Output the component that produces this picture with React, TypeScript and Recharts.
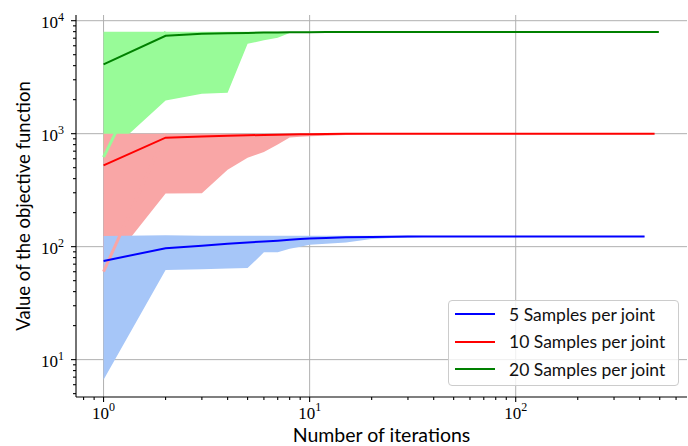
import React from 'react';
import { ComposedChart, Area, Line, XAxis, YAxis, CartesianGrid } from 'recharts';

// Iteration numbers at which each run was sampled
const iterations = [1, 2, 3, 4, 5, 6, 7, 8, 9, 10, 12, 15, 20, 25, 30, 40, 60, 100, 200, 300, 422, 472, 495];

// 5 samples per joint
const blueMean = [74.6, 97, 102, 106, 109, 111, 113, 115, 117, 118, 119.5, 121, 122, 122.5, 123, 123, 123, 123, 123, 123, 123, null, null];
const blueLow = [6.65, 62, 63, 64, 64.6, 89, 89, 96, 100, 104, 106, 109, 117, 119, 120, 123, 123, 123, 123, 123, 123, null, null];
const blueHigh = [124, 126, 125, 125, 125, 125, 125, 125, 125, 125, 125, 125, 125, 125, 125, 124, 124, 124, 124, 124, 124, null, null];

// 10 samples per joint
const redMean = [525, 922, 946, 960, 968, 975, 980, 985, 988, 990, 993, 996, 998, 998, 998, 998, 998, 998, 998, 998, 998, 998, null];
const redLow = [60, 295, 297, 480, 613, 688, 800, 925, 940, 950, 960, 975, 995, 998, 998, 998, 998, 998, 998, 998, 998, 998, null];
const redHigh = [1000, 1000, 1000, 1000, 1000, 1000, 1000, 1000, 1000, 1000, 1000, 1000, 1000, 1000, 1000, 1000, 1000, 1000, 1000, 1000, 1000, 1000, null];

// 20 samples per joint
const greenMean = [4100, 7360, 7670, 7750, 7800, 7850, 7880, 7900, 7910, 7920, 7935, 7945, 7950, 7950, 7950, 7950, 7950, 7950, 7950, 7950, 7950, 7950, 7950];
const greenLow = [620, 1970, 2260, 2300, 6250, 6700, 7070, 7800, 7900, 7920, 7935, 7945, 7950, 7950, 7950, 7950, 7950, 7950, 7950, 7950, 7950, 7950, 7950];
const greenHigh = [8000, 8000, 8000, 8000, 8000, 8000, 8000, 8000, 8000, 8000, 8000, 8000, 8000, 8000, 8000, 8000, 8000, 8000, 8000, 8000, 8000, 8000, 8000];

const seriesLabels = ['5 Samples per joint', '10 Samples per joint', '20 Samples per joint'];
const lineColors = ['#0000ff', '#ff0000', '#008000'];
const bandColors = ['#a6c6f8', '#f9a6a6', '#98fb98'];

const xMajor = [1, 10, 100];
const xMinor = [0.8, 0.9, 2, 3, 4, 5, 6, 7, 8, 9, 20, 30, 40, 50, 60, 70, 80, 90, 200, 300, 400, 500, 600];
const yMajor = [10, 100, 1000, 10000];
const yMinor = [5, 6, 7, 8, 9, 20, 30, 40, 50, 60, 70, 80, 90, 200, 300, 400, 500, 600, 700, 800, 900, 2000, 3000, 4000, 5000, 6000, 7000, 8000, 9000];

const xDomain = [0.735, 678];
const yDomain = [4.67, 11230];

const band = (lo: (number | null)[], hi: (number | null)[], i: number) =>
  lo[i] == null || hi[i] == null ? undefined : [lo[i], hi[i]];

// The edge that joins a band's first lower value to its second upper value
const edge = (lo: (number | null)[], hi: (number | null)[], i: number) =>
  i === 0 ? lo[0] : i === 1 ? hi[1] : undefined;

const data = iterations.map((it, i) => ({
  iter: it,
  blue: blueMean[i] ?? undefined,
  red: redMean[i] ?? undefined,
  green: greenMean[i] ?? undefined,
  blueBand: band(blueLow, blueHigh, i),
  redBand: band(redLow, redHigh, i),
  greenBand: band(greenLow, greenHigh, i),
  redEdge: edge(redLow, redHigh, i),
  greenEdge: edge(greenLow, greenHigh, i),
}));

const serif = '"Liberation Serif", "DejaVu Serif", serif';
const sans = 'Lato, "Noto Sans", sans-serif';

const XTick = (props: any) => {
  const { x, y, payload } = props;
  const v = payload.value;
  const major = xMajor.includes(v);
  return (
    <g>
      <line x1={x} x2={x} y1={y} y2={y + (major ? 5 : 3)} stroke="#000" strokeWidth={1.1} />
      {major && (
        <text x={x} y={y + 22} textAnchor="middle" fontFamily={serif} fontSize={17} fill="#000">
          10<tspan dy={-8} fontSize={12}>{Math.round(Math.log10(v))}</tspan>
        </text>
      )}
    </g>
  );
};

const YTick = (props: any) => {
  const { x, y, payload } = props;
  const v = payload.value;
  const major = yMajor.includes(v);
  return (
    <g>
      <line x1={x - (major ? 5 : 3)} x2={x} y1={y} y2={y} stroke="#000" strokeWidth={1.1} />
      {major && (
        <text x={x - 12} y={y + 7.6} textAnchor="end" fontFamily={serif} fontSize={17} fill="#000">
          10<tspan dy={-7} fontSize={12}>{Math.round(Math.log10(v))}</tspan>
        </text>
      )}
    </g>
  );
};

const XLabel = (props: any) => {
  const { viewBox } = props;
  return (
    <text x={viewBox.x + viewBox.width / 2} y={442} textAnchor="middle" fontFamily={sans} fontSize={19.5} fill="#000">
      Number of iterations
    </text>
  );
};

const YLabel = (props: any) => {
  const { viewBox } = props;
  const cy = viewBox.y + viewBox.height / 2;
  return (
    <text x={30} y={cy} transform={`rotate(-90 30 ${cy})`} textAnchor="middle" fontFamily={sans} fontSize={18.5} fill="#000">
      Value of the objective function
    </text>
  );
};

const LegendBox = () => (
  <div
    style={{
      position: 'absolute',
      left: 448,
      top: 300,
      width: 229,
      height: 84,
      border: '1px solid #cccccc',
      borderRadius: 4,
      background: 'rgba(255,255,255,0.8)',
      fontFamily: sans,
      fontSize: 17.5,
      color: '#111',
    }}
  >
    {seriesLabels.map((label, i) => (
      <div
        key={label}
        style={{ position: 'absolute', left: 0, top: 13 + i * 27.5 - 12, height: 24, display: 'flex', alignItems: 'center', whiteSpace: 'nowrap' }}
      >
        <svg width={60} height={24} style={{ display: 'block' }}>
          <line x1={6} x2={46} y1={12} y2={12} stroke={lineColors[i]} strokeWidth={2} />
        </svg>
        <span>{label}</span>
      </div>
    ))}
  </div>
);

export default function App() {
  return (
    <div style={{ position: 'absolute', left: 0, top: 0, width: 688, height: 446, background: '#fff' }}>
      <ComposedChart width={688} height={446} data={data} margin={{ top: 15, right: 1, bottom: 0, left: 0 }}>
        <CartesianGrid stroke="#b0b0b0" strokeWidth={1} verticalValues={xMajor} horizontalValues={yMajor} />
        <XAxis
          dataKey="iter"
          type="number"
          scale="log"
          domain={xDomain}
          allowDataOverflow
          ticks={[...xMajor, ...xMinor]}
          interval={0}
          tickLine={false}
          tickSize={0}
          tickMargin={0}
          tick={<XTick />}
          axisLine={{ stroke: '#000', strokeWidth: 1.1 }}
          height={49}
          label={<XLabel />}
        />
        <XAxis
          xAxisId="top"
          orientation="top"
          dataKey="iter"
          type="number"
          scale="log"
          domain={xDomain}
          allowDataOverflow
          tick={false}
          tickLine={false}
          height={0}
          axisLine={{ stroke: '#000', strokeWidth: 1.1 }}
        />
        <YAxis
          type="number"
          scale="log"
          domain={yDomain}
          allowDataOverflow
          ticks={[...yMajor, ...yMinor]}
          interval={0}
          tickLine={false}
          tickSize={0}
          tickMargin={0}
          tick={<YTick />}
          axisLine={{ stroke: '#000', strokeWidth: 1.1 }}
          width={76}
          label={<YLabel />}
        />
        <YAxis
          yAxisId="right"
          orientation="right"
          type="number"
          scale="log"
          domain={yDomain}
          allowDataOverflow
          tick={false}
          tickLine={false}
          width={0}
          axisLine={{ stroke: '#000', strokeWidth: 1.1 }}
        />
        <Area dataKey="greenBand" type="linear" stroke="none" fill={bandColors[2]} fillOpacity={1} isAnimationActive={false} />
        <Area dataKey="redBand" type="linear" stroke="none" fill={bandColors[1]} fillOpacity={1} isAnimationActive={false} />
        <Area dataKey="blueBand" type="linear" stroke="none" fill={bandColors[0]} fillOpacity={1} isAnimationActive={false} />
        <Line dataKey="greenEdge" type="linear" stroke={bandColors[2]} strokeWidth={3} dot={false} isAnimationActive={false} />
        <Line dataKey="redEdge" type="linear" stroke={bandColors[1]} strokeWidth={3} dot={false} isAnimationActive={false} />
        <Line dataKey="blue" type="linear" stroke={lineColors[0]} strokeWidth={2} dot={false} isAnimationActive={false} />
        <Line dataKey="red" type="linear" stroke={lineColors[1]} strokeWidth={2} dot={false} isAnimationActive={false} />
        <Line dataKey="green" type="linear" stroke={lineColors[2]} strokeWidth={2} dot={false} isAnimationActive={false} />
      </ComposedChart>
      <LegendBox />
    </div>
  );
}
